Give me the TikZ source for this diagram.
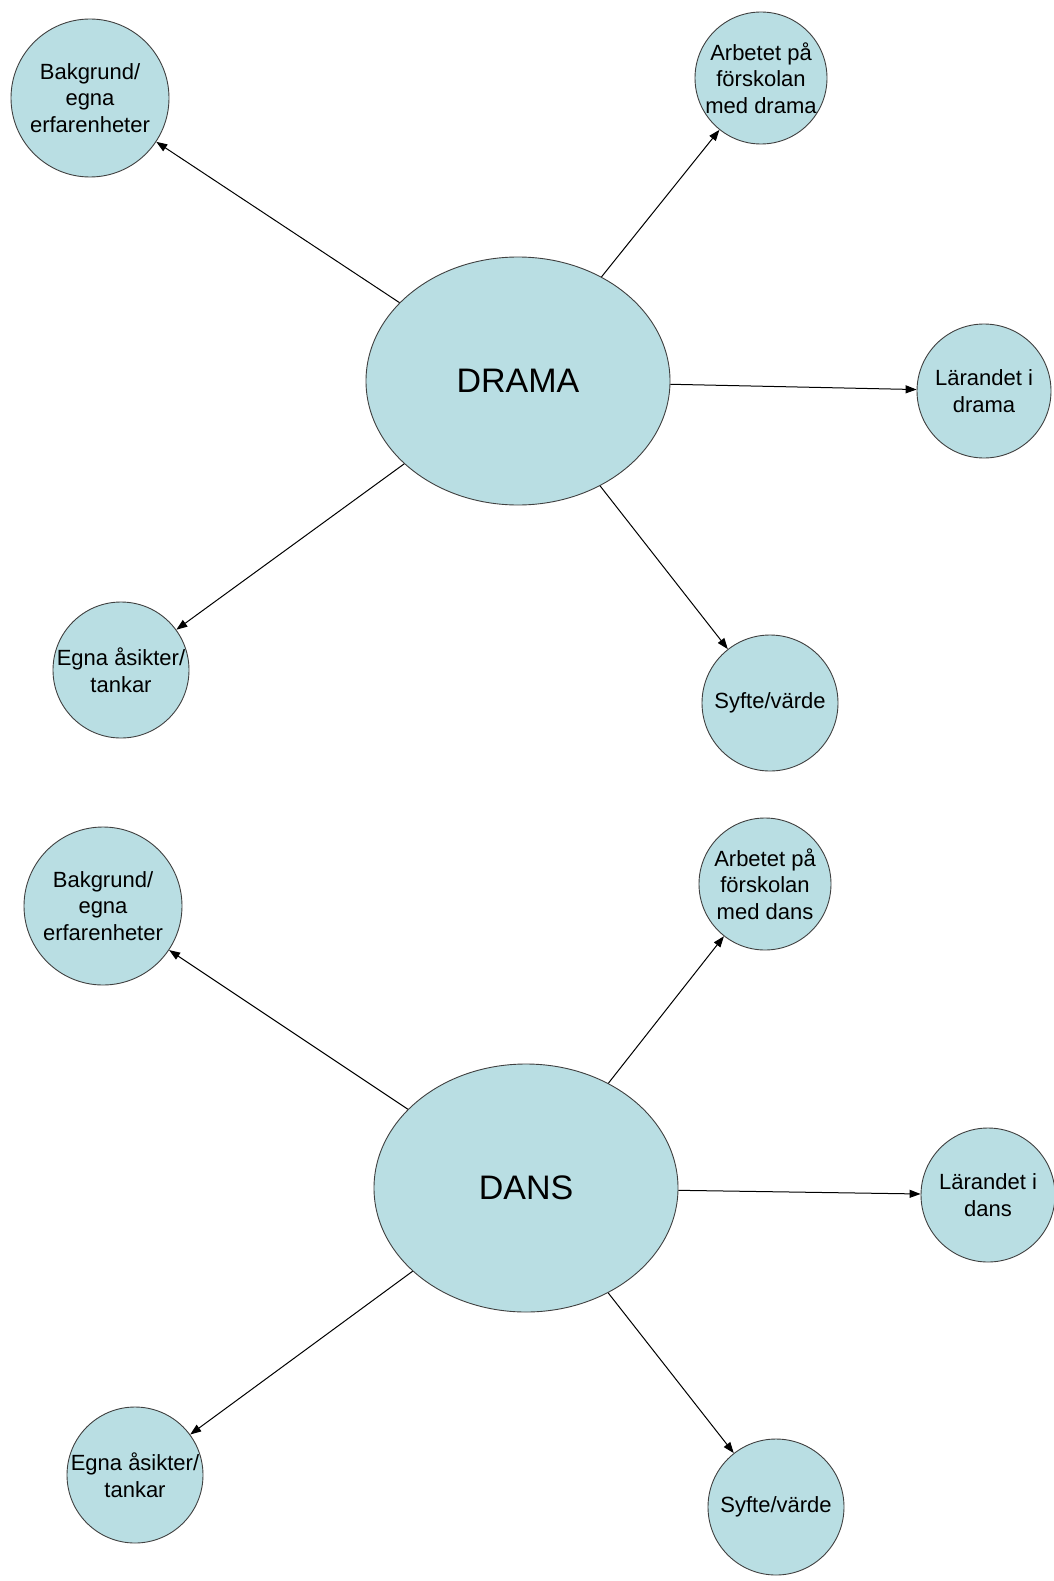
\documentclass[tikz,border=0pt]{standalone}
\usepackage{fontspec}
\setmainfont{Liberation Sans}
\usetikzlibrary{shapes.geometric,arrows.meta}
\definecolor{bub}{RGB}{185,222,227}
\begin{document}
\begin{tikzpicture}[x=1pt,y=-1pt,
  bubble/.style={circle,draw=black!75,line width=0.9pt,fill=bub,inner sep=-30pt,align=center,font=\fontsize{22}{26.5}\selectfont},
  hub/.style={ellipse,draw=black!75,line width=0.9pt,fill=bub,inner sep=0pt,minimum width=304pt,minimum height=248pt,font=\fontsize{34}{40}\selectfont},
  link/.style={-{Triangle[length=11pt,width=8pt]},line width=1pt}]
\useasboundingbox[fill=white] (0,0) rectangle (1054,1581);
% ---- DRAMA ----
\node[hub] (drama) at (518,381) {DRAMA};
\node[bubble,minimum size=158pt] (bak1) at (90,98) {Bakgrund/\\egna\\erfarenheter};
\node[bubble,minimum size=132pt] (arb1) at (761,78) {Arbetet på\\förskolan\\med drama};
\node[bubble,minimum size=134pt] (lar1) at (984,391) {Lärandet i\\drama};
\node[bubble,minimum size=136pt] (egn1) at (121,670) {Egna åsikter/\\tankar};
\node[bubble,minimum size=136pt] (syf1) at (770,703) {Syfte/värde};
\draw[link] (drama) -- (bak1);
\draw[link] (drama) -- (arb1);
\draw[link] (drama) -- (lar1);
\draw[link] (drama) -- (egn1);
\draw[link] (drama) -- (syf1);
% ---- DANS ----
\node[hub] (dans) at (526,1188) {DANS};
\node[bubble,minimum size=158pt] (bak2) at (103,906) {Bakgrund/\\egna\\erfarenheter};
\node[bubble,minimum size=132pt] (arb2) at (765,884) {Arbetet på\\förskolan\\med dans};
\node[bubble,minimum size=134pt] (lar2) at (988,1195) {Lärandet i\\dans};
\node[bubble,minimum size=136pt] (egn2) at (135,1475) {Egna åsikter/\\tankar};
\node[bubble,minimum size=136pt] (syf2) at (776,1507) {Syfte/värde};
\draw[link] (dans) -- (bak2);
\draw[link] (dans) -- (arb2);
\draw[link] (dans) -- (lar2);
\draw[link] (dans) -- (egn2);
\draw[link] (dans) -- (syf2);
\end{tikzpicture}
\end{document}
